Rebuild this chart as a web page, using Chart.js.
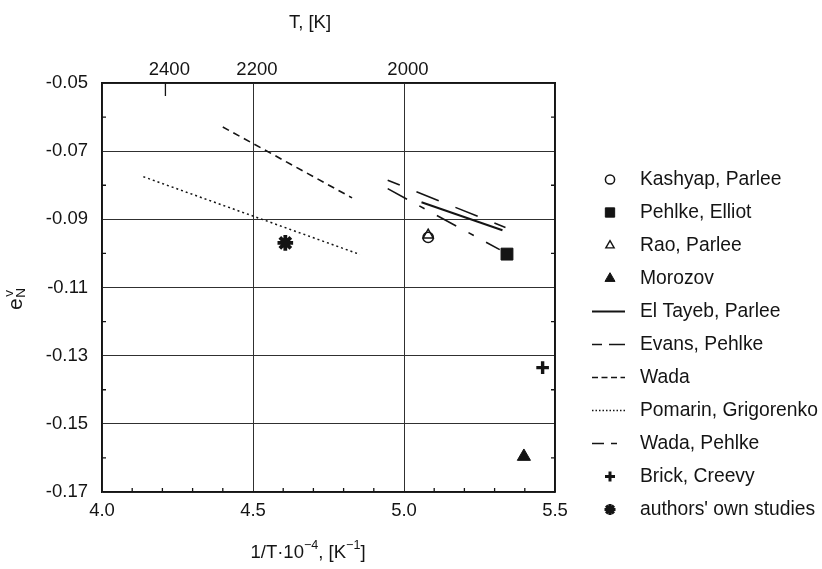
<!DOCTYPE html>
<html>
<head>
<meta charset="utf-8">
<script src="https://cdn.jsdelivr.net/npm/chart.js@4.4.0/dist/chart.umd.min.js"></script>
<style>
  html, body { margin: 0; padding: 0; background: #fff; }
</style>
</head>
<body>
<canvas id="nchart" width="822" height="569"></canvas>
<script>
// axes: 1/T*10^-4 along the bottom, e_N^v up the side, T [K] along the top
const xTicks = [4.0, 4.5, 5.0, 5.5];
const xMinor = [4.1, 4.2, 4.3, 4.4, 4.6, 4.7, 4.8, 4.9, 5.1, 5.2, 5.3, 5.4];
const yTicks = [-0.17, -0.15, -0.13, -0.11, -0.09, -0.07, -0.05];
const yMinor = [-0.16, -0.14, -0.12, -0.10, -0.08, -0.06];
const tempLabels = ['2400', '2200', '2000'];
const tempPos = [4.21, 4.5, 5.0]; // where the original figure prints them

// single measurements
const kashyapX = [5.08];   const kashyapY = [-0.0953];
const elliotX = [5.341];   const elliotY = [-0.1002];
const raoX = [5.08];       const raoY = [-0.0946];
const morozovX = [5.397];  const morozovY = [-0.1596];
const brickX = [5.459];    const brickY = [-0.1335];
const ownX = [4.607];      const ownY = [-0.0969];

// temperature dependences (end points of each line)
const elTayebX = [5.058, 5.326];  const elTayebY = [-0.0850, -0.0932];
const evansX = [4.946, 5.336];    const evansY = [-0.0785, -0.0924];
const wadaX = [4.40, 4.828];      const wadaY = [-0.0629, -0.0837];
const pomarinX = [4.137, 4.854];  const pomarinY = [-0.0775, -0.1003];
const wadaPehlkeX = [4.946, 5.317]; const wadaPehlkeY = [-0.0810, -0.0989];

const ink = '#141414';
const gridCol = '#303030';
const family = 'Arial, "Liberation Sans", Helvetica, sans-serif';
const tickFont = { family: family, size: 18.5 };

function pts(xs, ys) {
  return xs.map((v, i) => ({ x: v, y: ys[i] }));
}

function marker(label, xs, ys, style, r, filled, bw) {
  return {
    label: label, data: pts(xs, ys), showLine: false,
    pointStyle: style, pointRadius: r, pointHoverRadius: r, pointBorderWidth: bw,
    pointBorderColor: ink, borderColor: ink,
    pointBackgroundColor: filled ? ink : 'rgba(0,0,0,0)', backgroundColor: filled ? ink : 'rgba(0,0,0,0)'
  };
}

function curve(label, xs, ys, dash, width, offset) {
  return {
    label: label, data: pts(xs, ys), showLine: true, pointRadius: 0, pointHoverRadius: 0,
    borderColor: ink, borderWidth: width, borderDash: dash, borderDashOffset: offset || 0, fill: false
  };
}

// legend symbols, same order as the datasets
const legendSym = [
  { pt: 'circle', r: 4.6, fill: false, bw: 1.5 },
  { pt: 'rect', r: 6.6, fill: true, bw: 1 },
  { pt: 'triangle', r: 4.8, fill: false, bw: 1.4 },
  { pt: 'triangle', r: 5.8, fill: true, bw: 1 },
  { dash: [], w: 1.8 },
  { dash: [10, 7, 16, 40], w: 1.5 },
  { dash: [6, 3.5], w: 1.4 },
  { dash: [1.5, 2], w: 1.3 },
  { dash: [12, 7, 6, 40], w: 1.5 },
  { pt: 'cross', r: 5, fill: true, bw: 3 },
  { pt: 'star', r: 5.5, fill: true, bw: 3.2 }
];

function drawRich(ctx, parts, cx, cy, size) {
  let total = 0;
  parts.forEach(p => {
    ctx.font = (p.sup ? size * 0.68 : size) + 'px ' + family;
    p.w = ctx.measureText(p.t).width;
    total += p.w;
  });
  let x = cx - total / 2;
  parts.forEach(p => {
    ctx.font = (p.sup ? size * 0.68 : size) + 'px ' + family;
    ctx.fillText(p.t, x, p.sup ? cy - size * 0.38 : cy);
    x += p.w;
  });
}

const extras = {
  id: 'extras',
  afterDraw(chart) {
    const ctx = chart.ctx;
    const a = chart.chartArea;
    const sx = chart.scales.x, sy = chart.scales.y, st = chart.scales.xTop;
    ctx.save();
    ctx.strokeStyle = ink;
    ctx.lineWidth = 1.3;
    ctx.beginPath();
    xMinor.forEach(v => {
      const px = sx.getPixelForValue(v);
      ctx.moveTo(px, a.bottom); ctx.lineTo(px, a.bottom - 4);
    });
    yMinor.forEach(v => {
      const py = sy.getPixelForValue(v);
      ctx.moveTo(a.left, py); ctx.lineTo(a.left + 4, py);
      ctx.moveTo(a.right, py); ctx.lineTo(a.right - 4, py);
    });
    const p24 = st.getPixelForValue(tempPos[0]);
    ctx.moveTo(p24, a.top); ctx.lineTo(p24, a.top + 13);
    ctx.stroke();

    // axis titles
    ctx.fillStyle = ink;
    ctx.textBaseline = 'middle';
    ctx.textAlign = 'left';
    drawRich(ctx, [{ t: 'T, [K]' }], 310, 23, 18.5);
    drawRich(ctx, [{ t: '1/T\u00b710' }, { t: '\u2212' + '4', sup: true }, { t: ', [K' }, { t: '\u2212' + '1', sup: true }, { t: ']' }], 308, 553, 18.5);

    ctx.save();
    ctx.translate(16, 298);
    ctx.rotate(-Math.PI / 2);
    ctx.textBaseline = 'alphabetic';
    ctx.font = '21px ' + family;
    ctx.fillText('e', -12, 6);
    const ew = ctx.measureText('e').width;
    ctx.font = '13.5px ' + family;
    ctx.fillText('N', -12 + ew + 0.5, 9);
    ctx.fillText('v', -12 + ew + 1.5, -3);
    ctx.restore();

    // legend
    const lx = 610, tx = 640, y0 = 179.5, step = 33;
    chart.data.datasets.forEach((ds, i) => {
      const s = legendSym[i];
      const y = y0 + i * step;
      ctx.strokeStyle = ink;
      ctx.fillStyle = ink;
      if (s.pt) {
        ctx.setLineDash([]);
        ctx.lineWidth = s.bw;
        ctx.fillStyle = s.fill ? ink : 'rgba(0,0,0,0)';
        Chart.helpers.drawPoint(ctx, { pointStyle: s.pt, radius: s.r, borderWidth: s.bw, rotation: 0 }, lx, y);
      } else {
        ctx.setLineDash(s.dash);
        ctx.lineWidth = s.w;
        ctx.beginPath();
        ctx.moveTo(592, y); ctx.lineTo(625, y);
        ctx.stroke();
      }
      ctx.setLineDash([]);
      ctx.fillStyle = ink;
      ctx.font = '19.3px ' + family;
      ctx.textAlign = 'left';
      ctx.textBaseline = 'middle';
      ctx.fillText(ds.label, tx, y);
    });
    ctx.restore();
  }
};

const nchart = new Chart(document.getElementById('nchart').getContext('2d'), {
  type: 'scatter',
  data: {
    datasets: [
      marker('Kashyap, Parlee', kashyapX, kashyapY, 'circle', 5.2, false, 1.5),
      marker('Pehlke, Elliot', elliotX, elliotY, 'rect', 8.4, true, 1),
      marker('Rao, Parlee', raoX, raoY, 'triangle', 5.8, false, 1.5),
      marker('Morozov', morozovX, morozovY, 'triangle', 7.6, true, 1),
      curve('El Tayeb, Parlee', elTayebX, elTayebY, [], 2),
      curve('Evans, Pehlke', evansX, evansY, [24, 18], 1.6, 11),
      curve('Wada', wadaX, wadaY, [7, 5], 1.6),
      curve('Pomarin, Grigorenko', pomarinX, pomarinY, [2, 3], 1.5),
      curve('Wada, Pehlke', wadaPehlkeX, wadaPehlkeY, [22, 14, 6, 14], 1.6),
      marker('Brick, Creevy', brickX, brickY, 'cross', 6.3, true, 3.4),
      marker("authors' own studies", ownX, ownY, 'star', 7.8, true, 3.8)
    ]
  },
  options: {
    responsive: false,
    animation: false,
    layout: { padding: { left: 0, right: 267, top: 0, bottom: 0 } },
    plugins: { legend: { display: false }, tooltip: { enabled: false } },
    scales: {
      x: {
        type: 'linear', position: 'bottom', min: 4, max: 5.5,
        afterBuildTicks: s => { s.ticks = xTicks.map(v => ({ value: v })); },
        afterFit: s => { s.height = 77; },
        ticks: { font: tickFont, color: ink, padding: 8, maxRotation: 0, autoSkip: false, callback: v => v.toFixed(1) },
        grid: { color: gridCol, lineWidth: 1, drawTicks: false },
        border: { color: ink, width: 1.6 }
      },
      xTop: {
        type: 'linear', position: 'top', min: 4, max: 5.5,
        afterBuildTicks: s => { s.ticks = tempPos.map(v => ({ value: v + 0.013 })); },
        afterFit: s => { s.height = 83; },
        ticks: { font: tickFont, color: ink, padding: 2, maxRotation: 0, autoSkip: false, callback: (v, i) => tempLabels[i] },
        grid: { display: false, drawTicks: false },
        border: { display: true, color: ink, width: 1.6 }
      },
      y: {
        type: 'linear', position: 'left', min: -0.17, max: -0.05,
        afterBuildTicks: s => { s.ticks = yTicks.map(v => ({ value: v })); },
        afterFit: s => { s.width = 102; },
        ticks: { font: tickFont, color: ink, padding: 14, autoSkip: false, callback: v => v.toFixed(2) },
        grid: { color: gridCol, lineWidth: 1, drawTicks: false },
        border: { color: ink, width: 1.6 }
      },
      yRight: {
        type: 'linear', position: 'right', min: -0.17, max: -0.05,
        afterFit: s => { s.width = 0; },
        ticks: { display: false },
        grid: { display: false, drawTicks: false },
        border: { display: true, color: ink, width: 1.6 }
      }
    }
  },
  plugins: [extras]
});
</script>
</body>
</html>
